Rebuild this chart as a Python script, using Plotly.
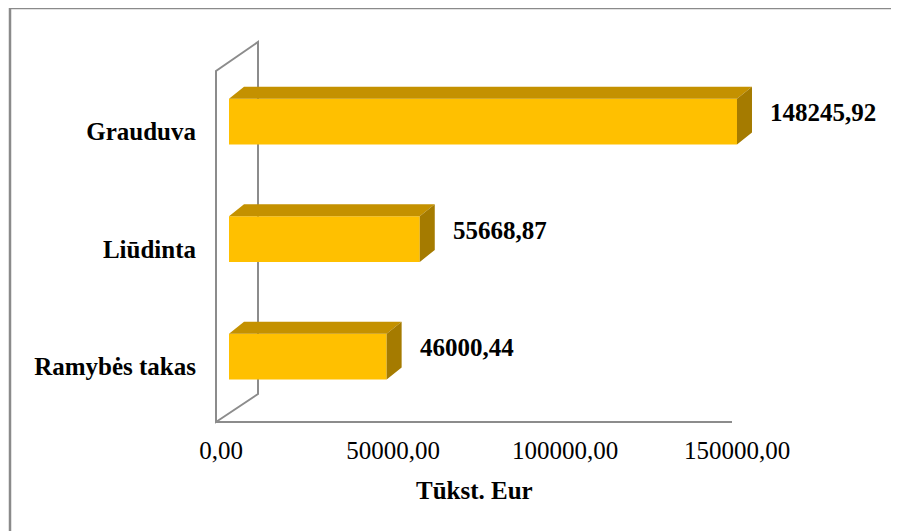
import plotly.graph_objects as go

# ---- data ----
categories = ["Ramybės takas", "Liūdinta", "Grauduva"]
values = [46000.44, 55668.87, 148245.92]
tick_vals = [0, 50000, 100000, 150000]
tick_text = ["0,00", "50000,00", "100000,00", "150000,00"]
axis_title = "Tūkst. Eur"

W, H = 899, 531
OFF = 8  # page body margin
def px(x):
    return (x - OFF) / W
def py(y):
    return 1 - (y - OFF) / H

FRONT = "#FFC000"
TOP = "#C49100"
SIDE = "#A57B00"
GRID = "#8C8C8C"
FONT = "Liberation Serif"
FS = 25

pos = list(range(len(categories)))
bar_w = 0.39
floor_l, floor_r = 216.0, 732.0
dom_r = 890.0
x_max = 150000
x_range = [0, x_max * (dom_r - floor_l) / (floor_r - floor_l)]
bar0_px = 229.0
units_per_px = x_max / 514.0
x2_range = [-(bar0_px - floor_l) * units_per_px, (dom_r - bar0_px) * units_per_px]
dx = 15 * units_per_px
y_range = [-0.557, 2.677]
dy = 12 * (y_range[1] - y_range[0]) / (422 - 42)

fig = go.Figure()

# invisible trace so the floor axis (x) is drawn
fig.add_trace(go.Scatter(x=[tick_vals[0], tick_vals[-1]], y=[y_range[0], y_range[0]],
                         mode="lines", line=dict(width=0), opacity=0,
                         xaxis="x", yaxis="y", hoverinfo="skip", showlegend=False))

fig.add_trace(go.Bar(
    x=values, y=pos, orientation="h", width=bar_w,
    marker=dict(color=FRONT, line=dict(width=0)),
    xaxis="x2", yaxis="y", hoverinfo="skip", showlegend=False,
))

top_x, top_y, side_x, side_y = [], [], [], []
for v, p in zip(values, pos):
    yt = p + bar_w / 2
    yb = p - bar_w / 2
    top_x += [0, v, v + dx, dx, 0, None]
    top_y += [yt, yt, yt + dy, yt + dy, yt, None]
    side_x += [v, v, v + dx, v + dx, v, None]
    side_y += [yb, yt, yt + dy, yb + dy, yb, None]

fig.add_trace(go.Scatter(x=top_x, y=top_y, fill="toself", fillcolor=TOP,
                         mode="lines", line=dict(width=0, color=TOP),
                         xaxis="x2", yaxis="y", hoverinfo="skip", showlegend=False))
fig.add_trace(go.Scatter(x=side_x, y=side_y, fill="toself", fillcolor=SIDE,
                         mode="lines", line=dict(width=0, color=SIDE),
                         xaxis="x2", yaxis="y", hoverinfo="skip", showlegend=False))

for v, p in zip(values, pos):
    fig.add_annotation(x=v, y=p, xref="x2", yref="y",
                       text=f"{v:.2f}".replace(".", ","), showarrow=False,
                       xanchor="left", yanchor="middle", xshift=31, yshift=9,
                       font=dict(family=FONT, size=FS, color="black", weight="bold"))

fig.add_annotation(x=px(474), y=py(490), xref="paper", yref="paper",
                   text=f"<b>{axis_title}</b>", showarrow=False,
                   xanchor="center", yanchor="middle",
                   font=dict(family=FONT, size=FS, color="black"))

line = dict(color=GRID, width=2)
shapes = [
    dict(type="path", xref="paper", yref="paper", layer="below",
         path=f"M {px(216)} {py(422)} L {px(216)} {py(71)} L {px(258)} {py(42)} "
              f"L {px(258)} {py(394)} Z",
         line=line, fillcolor="rgba(0,0,0,0)"),
    # floor front edge
    dict(type="line", xref="x", yref="paper", x0=0, x1=x_max, y0=py(422), y1=py(422),
         layer="below", line=line),
    dict(type="line", xref="paper", yref="paper", x0=px(10), y0=py(8), x1=1.0, y1=py(8),
         line=dict(color="#8A8A8A", width=2.5)),
    dict(type="line", xref="paper", yref="paper", x0=px(10), y0=py(8), x1=px(10), y1=0.0,
         line=dict(color="#8A8A8A", width=2.5)),
]

fig.update_layout(
    width=W, height=H,
    margin=dict(l=0, r=0, t=0, b=0, autoexpand=False),
    paper_bgcolor="white", plot_bgcolor="rgba(0,0,0,0)",
    showlegend=False,
    shapes=shapes,
    xaxis=dict(domain=[px(floor_l), px(dom_r)], range=x_range,
               anchor="y", automargin=False,
               tickvals=tick_vals, ticktext=tick_text, ticks="",
               showgrid=False, zeroline=False, showline=False,
               ticklabelstandoff=11, ticklabelshift=5,
               tickfont=dict(family=FONT, size=FS, color="black")),
    xaxis2=dict(range=x2_range, overlaying="x", visible=False, anchor="y"),
    yaxis=dict(domain=[py(422), py(42)], range=y_range,
               anchor="x", automargin=False,
               tickvals=pos, ticktext=categories, ticks="",
               showgrid=False, zeroline=False, showline=False,
               ticklabelshift=10, ticklabelstandoff=19,
               tickfont=dict(family=FONT, size=FS, color="black", weight="bold")),
)

fig.write_html("out.html")
